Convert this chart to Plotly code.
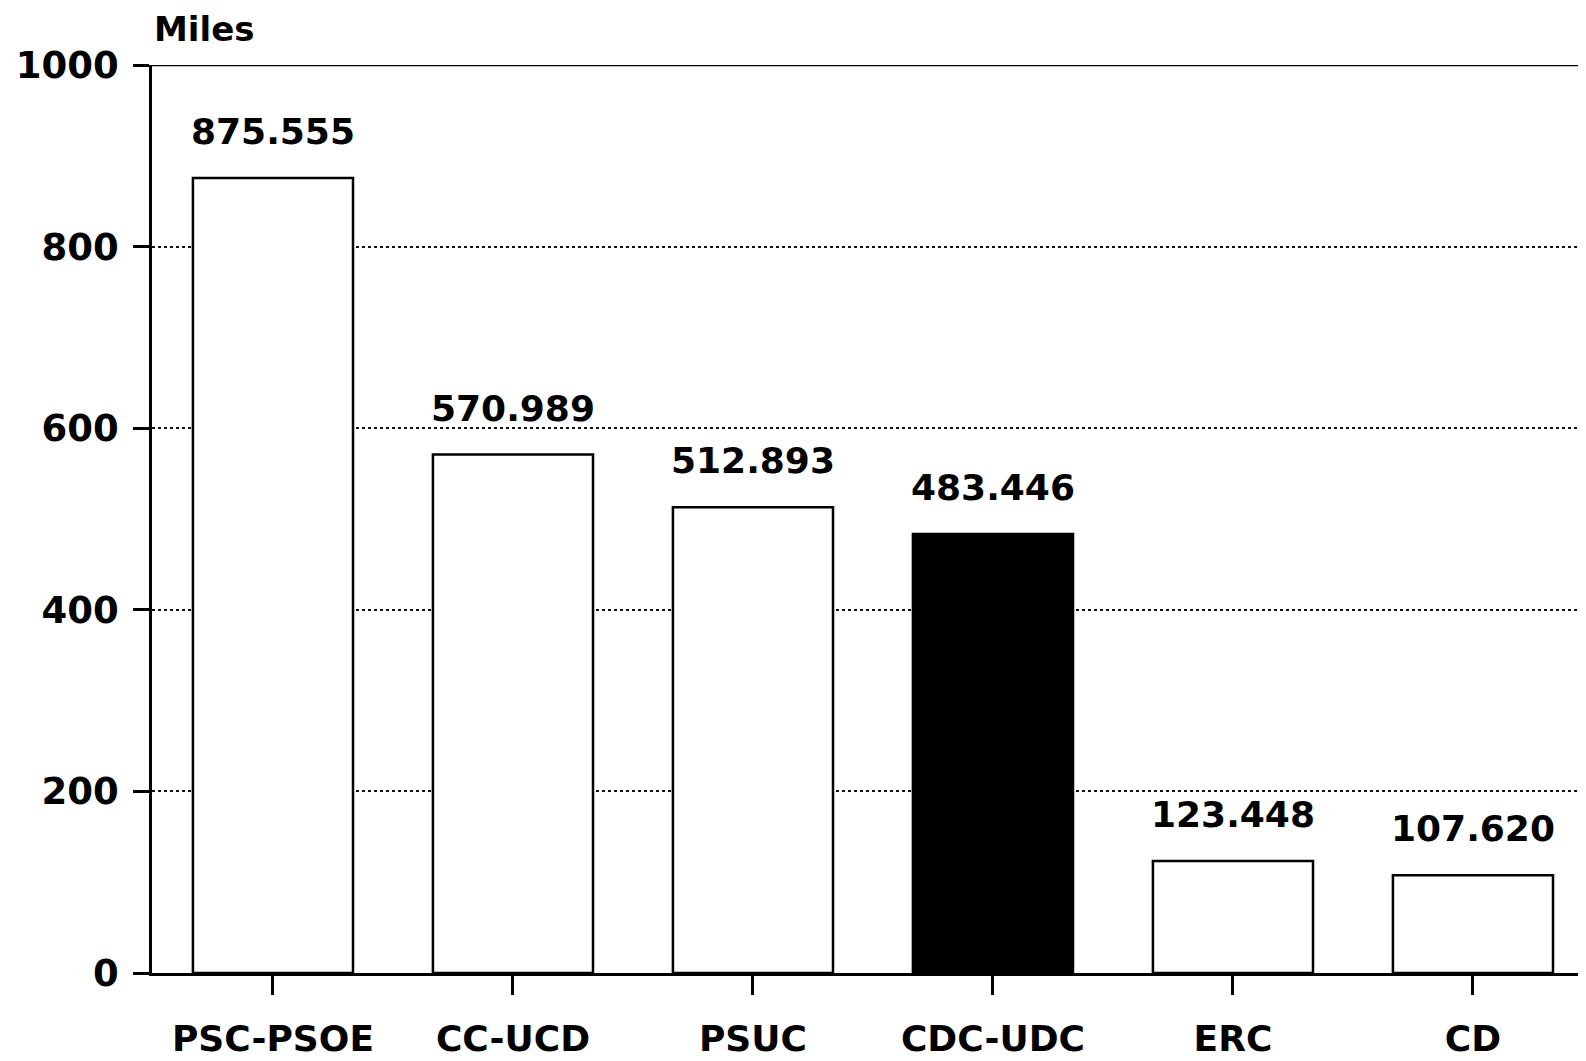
import plotly.graph_objects as go

categories = ["PSC-PSOE", "CC-UCD", "PSUC", "CDC-UDC", "ERC", "CD"]
values = [875.555, 570.989, 512.893, 483.446, 123.448, 107.620]
value_labels = ["875.555", "570.989", "512.893", "483.446", "123.448", "107.620"]
bar_colors = ["white", "white", "white", "black", "white", "white"]
y_ticks = [0, 200, 400, 600, 800, 1000]
y_title = "Miles"

FONT = "DejaVu Sans"

fig = go.Figure()
fig.add_trace(go.Bar(
    x=categories, y=values,
    marker=dict(color=bar_colors, line=dict(color="black", width=2.5)),
    width=0.667,
    hoverinfo="skip",
))

for c, v, t in zip(categories, values, value_labels):
    fig.add_annotation(
        x=c, y=v, xref="x", yref="y", text=t, showarrow=False,
        xanchor="center", yanchor="bottom", yshift=24,
        font=dict(family=FONT, size=36, color="black", weight="bold"),
    )

fig.add_annotation(
    x=0, y=1, xref="paper", yref="paper", text=y_title, showarrow=False,
    xanchor="left", yanchor="bottom", yshift=14,
    font=dict(family=FONT, size=34, color="black", weight="bold"),
)

fig.add_shape(type="line", xref="paper", yref="y", x0=0, x1=1, y0=1000, y1=1000,
              line=dict(color="black", width=2.5), layer="above")

fig.update_layout(
    width=1578, height=1053,
    margin=dict(l=144, r=0, t=57, b=88, autoexpand=False),
    paper_bgcolor="white", plot_bgcolor="white",
    showlegend=False,
    xaxis=dict(
        type="category", range=[-0.504, 5.471], automargin=False,
        showline=True, linecolor="black", linewidth=2.5,
        ticks="outside", ticklen=19, tickwidth=2.5, tickcolor="black",
        showgrid=False, zeroline=False,
        tickfont=dict(family=FONT, size=36, color="black", weight="bold"),
        ticklabelstandoff=13,
    ),
    yaxis=dict(
        range=[0, 1000], tickvals=y_ticks, automargin=False,
        showline=True, linecolor="black", linewidth=2.5,
        ticks="outside", ticklen=16, tickwidth=2.5, tickcolor="black",
        showgrid=True, gridcolor="#111111", gridwidth=2, griddash="dot",
        zeroline=False,
        tickfont=dict(family=FONT, size=37, color="black", weight="bold"),
        ticklabelstandoff=7,
    ),
)

fig.write_html("out.html", config={"displayModeBar": False})
